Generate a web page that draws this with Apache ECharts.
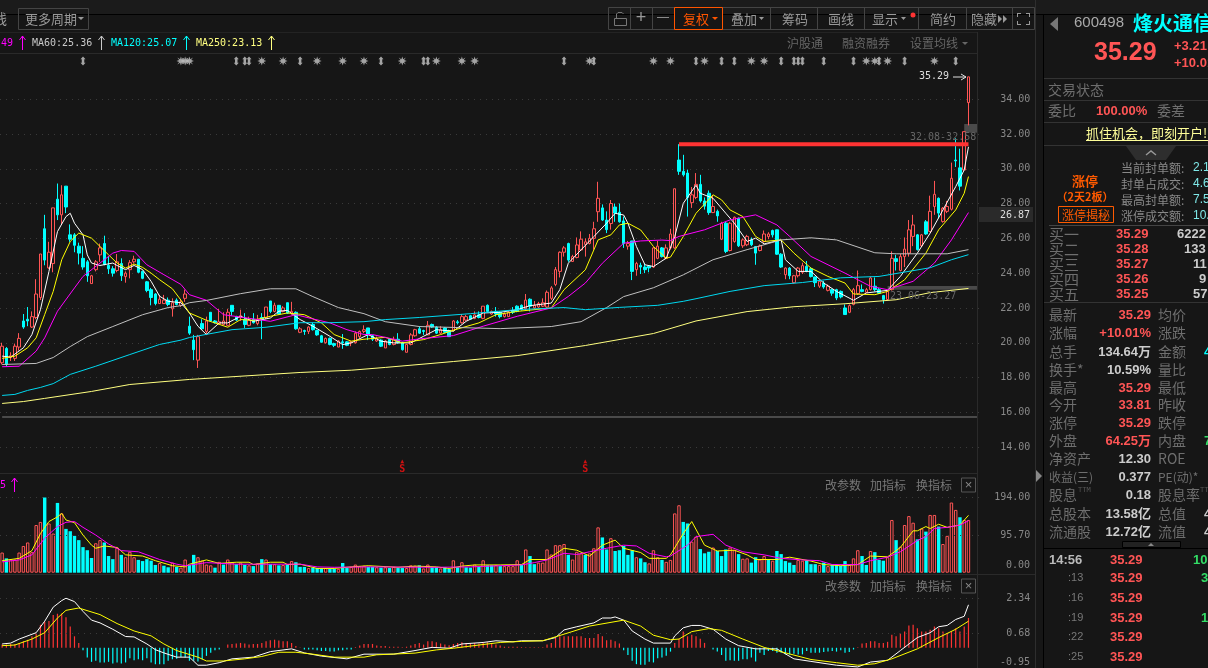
<!DOCTYPE html>
<html lang="zh">
<head>
<meta charset="UTF-8"/>
<title>烽火通信 600498</title>
<script src="https://cdn.jsdelivr.net/npm/echarts@6/dist/echarts.min.js"></script>
<style>html,body{margin:0;padding:0;background:#161616;overflow:hidden}#main{width:1208px;height:668px}</style>
</head>
<body>
<div id="main"></div>
<script>
// open, close, low, high
var ohlc = [
[18.8,19.75,18.7,19.95],[19.62,18.7,18.6,19.7],[19.1,19.2,18.9,19.4],[19.05,19.75,18.9,19.9],[19.7,20.2,19.5,20.5],
[21.2,20.85,20.75,21.6],[21.3,21.2,20.9,22],[20.85,21.45,20.8,21.75],[21.4,22.75,21.3,23.6],[22.55,25.05,22.4,25.05],
[26.5,24.7,24.4,27.3],[24.25,25.15,24.2,25.75],[24.5,27.7,24,27.7],[28.2,27.3,27,29.1],[27.3,28.45,26.75,29],
[28.95,27.75,27.4,28.95],[26.15,25.9,25.75,26.75],[26.15,25.55,25.15,26.25],[25.5,25.1,24.45,25.7],[24.8,24.3,24.15,25.5],
[24.6,23.8,23.45,24.7],[23.35,23.8,23.35,23.85],[24.15,24.6,24.05,24.7],[25,25.4,24.6,25.65],[25.65,24.45,24.4,26.1],
[24.4,24.2,23.9,24.9],[24.2,23.95,23.75,24.35],[24.1,24.6,24,25.05],[24.5,23.8,23.5,24.8],[23.75,23.95,23.4,24.05],
[24.15,24.55,23.65,24.7],[24.6,24.75,24.5,24.95],[24.75,24,23.95,24.75],[24.05,23.65,23.6,24.1],[23.45,22.95,22.85,23.5],
[23,22.55,22.1,23.1],[22.75,22.2,22.1,22.8],[22.2,22.45,22.2,22.7],[22.2,22.4,22.2,22.7],[22.4,22.15,22.05,22.55],
[21.9,22.25,21.45,22.5],[22.4,22.15,22.1,22.5],[22.1,22.3,22,22.45],[22.5,22.75,22.3,23],[20.9,20.5,20.4,21.45],
[20.1,19.55,18.95,20.4],[18.95,20.3,18.5,20.4],[21.05,20.75,20.7,21.3],[20.6,21.2,20.4,21.45],[21.7,21.2,21.15,21.7],
[21.2,21.1,21.05,21.25],[21.05,21.15,21,21.9],[21,21.2,21,21.7],[20.95,21.7,20.9,21.9],[22.1,21.75,21.5,22.1],
[21.45,21.25,21.2,21.5],[21.4,21.5,21.2,21.85],[21.3,21,20.8,21.65],[20.95,21.25,20.9,21.45],[21.3,21.1,21.05,21.65],
[21.05,21.3,20.95,21.55],[21.4,21.3,20.15,21.65],[21.4,22,21.3,22],[22.35,21.75,21.65,22.35],[21.75,22.1,21.7,22.25],
[22.1,21.6,21.55,22.1],[21.75,21.95,21.7,22.05],[22.25,21.65,21.6,22.25],[21.65,21.75,21.55,22.3],[21.7,20.75,20.7,21.75],
[20.55,20.75,20.5,20.85],[20.65,20.6,20.4,20.7],[20.6,20.85,20.45,20.9],[21,20.7,20.65,21.1],[20.65,20.4,20.35,20.7],
[20.35,19.98,19.95,20.4],[19.95,20.2,19.9,20.25],[20.2,19.85,19.8,20.25],[19.9,19.8,19.7,19.95],[19.7,20.05,19.7,20.1],
[20,19.95,19.6,20.45],[20,19.8,19.75,20.05],[19.95,20,19.75,20.05],[19.95,20.5,19.9,20.6],[20.3,20.6,20.2,20.65],
[20.6,20.7,20.5,20.95],[20.8,20.4,20.1,20.8],[20.35,20.15,20.05,20.4],[20.05,20.2,20,20.3],[20.1,19.75,19.7,20.15],
[19.65,20.05,19.65,20.1],[20.15,19.85,19.8,20.2],[19.85,20.15,19.8,20.3],[20.15,19.95,19.9,20.5],[19.95,19.55,19.5,20],
[19.4,19.85,19.4,19.85],[19.85,20.4,19.8,20.5],[20.35,20.7,20.3,20.75],[20.75,20.5,20.45,20.9],[20.65,20.6,20.4,20.7],
[20.4,20.95,20.4,21.2],[21,20.85,20.8,21.05],[20.85,20.5,20.45,20.9],[20.5,20.7,20.45,20.9],[20.8,20.55,20.5,20.85],
[20.65,20.3,20.3,20.7],[20.65,21.2,20.6,21.25],[21.15,21.1,21,21.25],[21.1,21.45,21.05,21.6],[21.25,21.45,21.2,21.55],
[21.5,21.3,21.3,21.55],[21.35,21.55,21.3,21.75],[21.55,21.4,21.35,21.75],[21.35,22.05,21.3,22.05],[22.1,21.75,21.7,22.15],
[21.6,21.75,21.55,21.8],[21.75,21.6,21.45,22],[21.7,21.45,21.35,21.75],[21.45,21.6,21.4,21.7],[21.45,21.7,21.45,21.75],
[21.8,21.7,21.6,22],[22.05,21.75,21.7,22.1],[22.1,21.85,21.8,22.15],[21.9,22.4,21.8,22.75],[22.45,22.05,21.75,22.5],
[21.95,22.1,21.9,22.35],[22,22.2,21.95,22.3],[22.05,22.25,22,22.5],[22,22.85,21.95,22.95],[22.5,23.1,22.4,23.2],
[23.3,24.15,23.2,24.3],[24.05,25.15,23.7,25.2],[25.15,25.4,24.9,25.5],[25.65,24.7,24.6,25.7],[24.62,24.9,24.6,25],
[24.85,25.57,24.8,26],[25.28,25.9,25.25,26.35],[25.6,25.75,24.9,25.95],[25.65,25.95,25.6,26.2],[25.95,26.5,25.3,26.9],
[27.48,28.25,26.9,29.2],[27.7,27,26.95,27.9],[27,26.45,26.25,27.5],[26.8,27.95,26.45,28.15],[27.75,27.4,26.9,27.95],
[27.45,26.9,26.85,27.95],[26.95,25.65,25.4,27.2],[25.5,25.65,25.3,25.8],[25.8,24.05,23.55,25.8],[24.15,24.5,23.8,24.6],
[24.4,24.3,23.9,24.55],[24.3,24.15,23.95,24.5],[24.35,24.25,24,24.4],[24.3,25.4,24.25,25.45],[24.8,25.5,24.75,25.8],
[25.4,24.9,24.85,25.45],[24.8,25.4,24.75,25.6],[25.4,26.2,25.3,26.5],[25.4,28.8,25.35,28.8],[30.45,29.8,29.6,31.36],
[29.8,29.6,29.5,30.75],[29.7,28.3,27.2,29.9],[28,28.45,27.7,28.9],[28.3,29.05,28.2,29.7],[29.05,28.1,28,29.6],
[28.1,27.8,27.6,28.3],[28.54,27.43,27.3,28.7],[27.43,27.78,27.4,28.45],[27.5,27.24,26.9,27.6],[25.9,26.82,25.85,26.9],
[26.82,25.2,25.1,26.9],[25.25,26.82,25.2,26.9],[25.77,27.16,25.7,27.2],[27.1,25.52,25.45,27.15],[25.52,25.86,25.4,25.95],
[25.58,26.06,25.5,26.15],[25.86,25.58,25.5,26],[25.48,25.1,24.43,25.5],[25.25,25.52,25.2,25.6],[25.77,26.2,25.7,26.4],
[26.05,26.2,25.9,26.3],[26.4,26.15,26,26.45],[26.44,25.04,25,26.45],[25.04,24.3,24.25,25.1],[23.86,24.24,23.6,24.28],
[24.24,23.8,23.6,24.3],[23.4,23.8,23.35,23.85],[23.8,24.24,23.7,24.3],[24,24.38,23.9,24.55],[24.34,24.05,24,24.65],
[24.2,23.75,23.7,24.3],[23.73,23.4,23.15,23.75],[23.2,23.48,23.1,23.55],[23.38,23.15,23.05,23.5],[22.96,23.2,22.9,23.3],
[23,22.8,22.65,23.05],[23,22.52,22.4,23.05],[22.9,22.58,22.5,22.95],[21.95,21.57,21.55,22.15],[21.7,22.08,21.65,22.15],
[22.15,23,22.1,23.1],[22.77,23.23,22.7,24.1],[23,22.9,22.85,23.3],[22.85,23,22.8,23.1],[23,23.67,22.95,23.75],
[23.2,23,22.9,23.7],[23,22.8,22.75,23.1],[22.66,22.43,22.2,22.7],[22.43,22.9,22.4,22.95],[23,24.8,22.95,25.2],
[24.78,24.62,24.1,25],[24.1,24.9,24.05,25.05],[24.9,25.33,24.3,26],[25.1,26.44,24.9,27],[26.06,26.72,25.5,27.3],
[26.15,25.3,25.25,26.2],[25.52,26.15,25.45,26.2],[26.9,26.2,26.15,27],[26.35,27.5,26.3,28.4],[27.78,28.48,27.3,29.25],
[28.25,27.4,27.1,28.3],[26.92,27.68,26.85,27.75],[27.5,27.78,27.4,28.1],[27.62,29.4,27.55,30.3],[30.45,30.4,30.05,31.7],
[30,28.95,28.7,31.1],[29.88,32.08,29.85,32.08],[33.75,35.23,32.44,35.23]
];
// negative = cyan (down) bar
var volumes = [
52,-37,34,34,52,69,78,53,123,131,-194,127,101,-180,153,-113,-107,-95,-84,-66,-58,-38,76,84,-78,-43,-35,65,-46,40,
54,40,-33,-30,-35,-31,-20,25,-18,-14,26,-15,13,34,-20,-46,40,31,21,19,-13,28,-21,34,27,-22,26,-20,19,-17,
24,-35,34,-22,22,-19,20,-21,30,-27,-15,-15,12,-13,-12,-11,12,-10,-10,10,-25,-12,15,21,17,18,-15,-15,14,-13,
14,-12,15,-12,-12,12,19,18,-19,11,21,-14,-14,11,-14,-10,32,-14,27,-14,-13,21,-15,32,-19,-19,20,-17,17,17,
17,32,-20,60,-43,-22,26,26,60,47,71,71,74,-46,34,54,50,-46,50,63,117,-91,-60,89,-56,-58,-69,-46,-58,40,
-37,-27,24,58,40,-33,28,33,153,174,-131,-127,80,93,-61,-50,-54,65,-56,-43,-60,65,58,-48,36,37,-26,-40,34,43,
-34,31,-56,-48,-30,-26,-20,33,31,-31,-22,-22,20,-26,17,-21,-22,-18,-30,20,37,58,-43,-20,56,-53,-33,-31,40,136,
-84,67,123,146,129,-86,114,-106,149,149,-119,74,95,181,162,-143,136,136
];
var macdBars = [
.15,.15,.18,.18,.23,.31,.38,.54,.69,1.08,1.23,1.26,1.54,1.6,1.61,1.43,1,.54,.23,
-.12,-.46,-.66,-.61,-.69,-.69,-.66,-.74,-.69,-.74,-.69,-.49,-.58,-.54,-.58,-.49,-.69,-.77,-.77,-.77,-.61,-.54,-.51,-.43,-.46,-.61,-.61,-.65,-.54,-.38,-.23,-.12,-.08,
0,.15,.18,.2,.23,.2,.15,.18,.18,.23,.31,.35,.38,.34,.31,.31,.23,.08,.01,
-.08,-.08,-.08,-.11,-.15,-.15,-.18,-.18,-.12,-.11,-.08,-.08,
.03,.11,.18,.18,.18,.11,.08,.08,.05,.05,.05,.03,.05,.11,.18,.23,.15,.31,.31,.26,.2,.15,.12,.18,.23,.26,.23,.2,.23,.2,.26,.26,.23,.15,.11,.05,.05,.05,.05,
.03,.03,.03,.03,.02,.03,.15,.23,.46,.54,.54,.54,.54,.54,.54,.46,.46,.46,.65,.54,.35,.38,.31,.2,
-.12,-.34,-.61,-.77,-.8,-.8,-.66,-.69,-.49,-.46,-.38,-.18,
.23,.43,.77,.54,.61,.54,.43,.23,0,
-.08,-.18,-.34,-.61,-.58,-.61,-.61,-.54,-.54,-.46,-.65,-.23,-.34,-.15,-.15,-.23,-.23,-.31,-.31,-.28,-.31,-.31,-.15,-.23,-.23,-.23,-.2,-.18,-.15,-.18,-.12,-.23,-.2,-.08,
.02,.2,.23,.31,.31,.23,.23,.28,.61,.54,.69,.77,1.05,1.08,.92,.77,.77,.85,1,.92,.77,.69,.77,.92,.77,1,1.4
];
// moving averages at the bends: [bar, value]
var ma5 = [[0,19.18],[2,19.12],[5,19.66],[7,20.42],[9,21.85],[11,24.05],[13,26.34],[15,27.2],[16,27.39],[17,26.82],[19,26.15],[20,25],[21,24.53],[23,24.39],[26,24.53],[27,24.39],[29,24.15],[31,24.39],[33,24.15],[35,23.48],[37,22.62],[39,22.33],[42,22.25],[44,21.66],[46,20.9],[48,20.42],[51,21.09],[53,21.09],[56,21.47],[59,21.18],[63,21.37],[65,21.76],[67,21.81],[70,21.28],[73,20.9],[77,20.32],[80,19.84],[82,19.94],[86,20.42],[89,20.04],[92,19.94],[96,19.94],[99,20.32],[102,20.7],[106,20.61],[109,21.18],[113,21.66],[117,21.7],[121,21.85],[124,22.08],[129,22.23],[131,23],[133,24.52],[136,25.29],[139,26.05],[142,26.82],[144,27.39],[146,27.29],[147,26.82],[149,25.48],[151,24.43],[153,24.33],[156,24.81],[158,26.05],[160,27.96],[163,29],[164,28.54],[167,28.25],[170,27.39],[172,26.82],[175,25.77],[177,25.96],[179,25.63],[183,25.86],[184,24.72],[187,24.05],[190,24.05],[193,23.38],[196,22.9],[200,22.39],[203,22.81],[206,22.9],[208,22.96],[211,23.76],[215,25.1],[218,26.25],[221,27.58],[224,28.92],[226,29.88],[227,31.21]];
var ma10 = [[0,19.05],[3,19.18],[6,19.66],[8,20.23],[10,21.57],[12,22.9],[14,24.72],[16,25.77],[18,26.25],[21,25.96],[23,25.48],[25,25],[27,24.53],[29,24.24],[31,24.47],[33,24.28],[35,23.95],[37,23.57],[40,23.05],[42,22.4],[44,21.66],[48,21.24],[50,21.09],[53,20.84],[56,21.28],[59,21.24],[63,21.47],[67,21.66],[71,21.56],[75,21.09],[78,20.42],[82,20.04],[85,20.15],[90,20.26],[94,19.94],[99,20.13],[103,20.42],[106,20.67],[112,21.09],[116,21.56],[121,21.75],[129,21.95],[132,23],[137,24.14],[140,25.86],[143,26.15],[145,26.72],[147,26.82],[150,26.43],[153,25.48],[156,24.81],[157,24.87],[160,26.05],[163,27.39],[167,28.45],[169,28.16],[171,27.58],[174,27.2],[177,26.06],[179,25.77],[183,25.86],[186,25.1],[190,24.24],[194,23.76],[198,23.38],[200,22.75],[205,22.71],[208,22.9],[212,23.57],[217,25.1],[220,26.44],[224,27.58],[226,28.54],[227,29.5]];
var ma20 = [[0,18.57],[4,18.6],[8,19.47],[10,20.23],[13,21.76],[17,23.1],[19,23.76],[23,24.53],[26,25.1],[28,25.25],[31,25.2],[34,24.43],[38,23.86],[42,23.3],[44,22.71],[48,22.39],[52,21.56],[59,21.32],[63,21.18],[69,21.56],[73,21.32],[77,21.09],[81,20.7],[85,20.42],[87,20.42],[94,20.04],[98,20.17],[106,20.36],[113,20.9],[121,21.47],[129,21.95],[133,22.61],[137,23.38],[141,24.52],[146,25.67],[150,25.8],[155,25.85],[157,25.82],[159,26.06],[165,26.44],[171,27.01],[177,27.3],[182,26.72],[185,26.06],[190,24.91],[198,23.95],[204,23.19],[208,23],[214,23.48],[219,24.53],[223,25.86],[227,27.43]];
var ma60 = [[0,18.7],[8,18.76],[12,19.1],[16,19.73],[20,20.3],[26,20.88],[33,21.56],[39,21.97],[42,22.08],[44,22.25],[48,22.38],[56,22.77],[63,23.05],[69,23.05],[73,22.6],[79,21.97],[85,21.62],[90,21.16],[98,20.88],[117,20.76],[129,20.88],[136,21.16],[142,21.97],[146,22.6],[153,23.11],[160,23.85],[167,24.72],[175,25.3],[183,25.86],[190,25.98],[196,25.86],[205,25.12],[210,25.06],[222,25.06],[227,25.3]];
var ma120 = [[0,16.92],[3,16.98],[6,17.21],[9,17.38],[12,17.6],[16,18.13],[22,18.6],[30,19.27],[37,19.85],[42,20.1],[44,20.25],[54,20.7],[62,20.84],[70,21.1],[77,21.1],[85,21.16],[90,21.28],[98,21.4],[110,21.62],[121,21.85],[132,21.97],[137,21.85],[145,21.98],[154,22.1],[160,22.33],[163,22.48],[171,22.9],[179,23.23],[188,23.41],[197,23.68],[206,23.76],[218,24.26],[223,24.72],[227,25.01]];
var ma250 = [[0,16.46],[5,16.57],[10,16.75],[21,17.15],[30,17.55],[44,17.84],[70,18.24],[82,18.37],[90,18.53],[106,18.87],[121,19.21],[137,19.79],[153,20.48],[163,21.2],[175,21.74],[186,22.02],[198,22.19],[210,22.42],[218,22.83],[227,23.07]];
var volMa5 = [[0,31],[4,37],[7,57],[9,101],[11,132],[13,144],[14,153],[15,136],[17,129],[19,97],[21,71],[22,63],[24,69],[27,65],[29,46],[33,43],[36,31],[40,18],[43,15],[44,22],[48,33],[51,24],[55,27],[58,27],[59,21],[63,27],[66,27],[67,21],[70,22],[74,11],[78,11],[82,15],[86,18],[93,14],[97,17],[102,15],[105,11],[108,17],[111,20],[117,20],[122,21],[124,34],[128,34],[132,63],[135,58],[138,43],[141,71],[144,84],[146,63],[150,52],[152,37],[156,37],[157,46],[160,101],[162,132],[165,71],[168,56],[172,58],[175,46],[177,34],[182,34],[185,40],[190,30],[193,21],[197,18],[201,21],[204,43],[208,41],[211,65],[214,108],[215,108],[217,119],[218,114],[220,125],[222,117],[225,123],[227,148]];
var volMa10 = [[0,28],[4,33],[7,46],[10,89],[13,119],[15,130],[17,132],[19,117],[22,97],[25,74],[28,57],[32,54],[37,34],[41,22],[43,18],[48,26],[55,22],[63,22],[70,22],[74,15],[78,14],[86,15],[102,14],[110,15],[122,20],[125,26],[128,33],[132,50],[135,47],[138,54],[142,63],[146,71],[149,69],[152,50],[156,41],[157,43],[161,71],[163,93],[167,99],[170,71],[174,54],[179,46],[183,37],[188,33],[192,31],[195,21],[201,21],[204,31],[208,40],[211,54],[215,83],[217,93],[219,114],[222,117],[225,123],[227,134]];
var dif = [[0,.18],[2,.22],[4,.41],[8,.71],[10,1.25],[12,1.91],[14,2.22],[15,2.33],[17,2.17],[19,1.71],[21,1.3],[23,1.17],[26,.87],[29,.53],[31,.51],[34,.18],[36,-.09],[38,-.24],[41,-.44],[44,-.44],[46,-.82],[48,-.82],[51,-.7],[54,-.52],[59,-.44],[63,-.18],[68,-.05],[71,-.24],[75,-.39],[81,-.52],[85,-.3],[92,-.3],[97,-.13],[101,.02],[105,-.02],[108,.18],[113,.25],[116,.33],[120,.28],[122,.33],[127,.33],[130,.48],[132,.84],[135,.99],[139,1.17],[141,1.4],[143,1.4],[144,1.45],[146,1.3],[148,.79],[151,.41],[153,.22],[157,.22],[158,.56],[160,.94],[162,1.05],[164,1.05],[167,.87],[170,.41],[173,.1],[177,-.05],[182,-.05],[186,-.52],[190,-.64],[196,-.82],[201,-.9],[204,-.67],[208,-.59],[211,-.13],[215,.48],[218,.71],[220,.99],[222,1.05],[224,1.33],[226,1.48],[227,2.02]];
var dea = [[0,.1],[3,.13],[7,.41],[10,.71],[13,1.4],[15,1.76],[18,1.87],[23,1.56],[27,1.14],[31,.79],[35,.56],[38,.18],[41,-.13],[46,-.44],[48,-.62],[52,-.62],[57,-.52],[61,-.41],[65,-.21],[69,-.21],[73,-.3],[78,-.44],[85,-.44],[88,-.33],[97,-.25],[102,-.1],[106,-.02],[112,.13],[117,.25],[122,.3],[127,.33],[132,.64],[138,1.02],[146,1.3],[150,1.02],[153,.59],[157,.38],[159,.41],[162,.76],[166,.9],[169,.82],[174,.41],[179,.02],[185,-.29],[190,-.55],[196,-.7],[201,-.82],[205,-.75],[209,-.52],[215,-.05],[220,.48],[224,.87],[227,1.25]];
var starBars = [42,43,44,61,66,74,80,85,94,102,108,111,138,153,157,165,176,179,203,205,208,219];
var arrowBars = [19,55,57,58,70,89,99,100,132,139,163,169,172,183,186,187,188,193,200,206,212,224];
var sBars = [94,137];
var resistance = [[159,31.36],[227,31.36]];
var floorLine = 15.78;
var upperZone = [32.08,32.58];
var lowerZone = [23.06,23.27];
var volGuides = [95.7,194];
var macdGuides = [0.68,2.34];
// my price readings sit one pixel high against the tick marks
var readShift = 0.06;

var BG = '#161616', RED = '#ff5555', CYAN = '#00ffff', YEL = '#ffff00';
var MONO = '"DejaVu Sans Mono","Liberation Mono",monospace';
var SANS = '"Liberation Sans","Noto Sans CJK SC",sans-serif';
var CJK = '"Noto Sans CJK SC",sans-serif';
var barCount = 231;
var cats = [];
for (var i = 0; i < barCount; i++) cats.push(String(i));

function sparse(pts, shift) {
    var arr = [];
    for (var i = 0; i < barCount; i++) arr.push(null);
    pts.forEach(function (p) { arr[p[0]] = p[1] + (shift || 0); });
    return arr;
}
function lineSeries(name, pts, color, xi, extra, shift) {
    var s = {
        name: name, type: 'line', xAxisIndex: xi, yAxisIndex: xi, data: sparse(pts, shift), connectNulls: true,
        showSymbol: false, symbol: 'none', silent: true, z: 5,
        lineStyle: { color: color, width: 1 }
    };
    for (var k in extra) s[k] = extra[k];
    return s;
}
function guides(vals) {
    return {
        silent: true, symbol: 'none', label: { show: false }, animation: false,
        lineStyle: { color: '#3a3a3a', type: [1, 5], width: 1 },
        data: vals.map(function (v) { return { yAxis: v }; })
    };
}

// ---- static text and frame of the terminal ----
var gfx = [];
function t(x, y, text, color, size, o) {
    o = o || {};
    gfx.push({
        type: 'text', silent: true, x: x, y: y, z: 20,
        style: {
            text: text, fill: color, font: (o.bold ? 'bold ' : '') + size + 'px ' + (o.font || CJK),
            textAlign: o.align || 'left', textVerticalAlign: 'middle'
        }
    });
}
function box(x, y, w, h, fill, stroke) {
    gfx.push({
        type: 'rect', silent: true, z: 15, shape: { x: x, y: y, width: w, height: h },
        style: { fill: fill || 'transparent', stroke: stroke || null, lineWidth: 1 }
    });
}
function hl(x1, x2, y, c) { box(x1, y, x2 - x1, 1, c || '#2c2c2c'); }
function vl(x, y1, y2, c) { box(x, y1, 1, y2 - y1, c || '#2c2c2c'); }
function tri(pts, c) {
    gfx.push({ type: 'polygon', silent: true, z: 20, shape: { points: pts }, style: { fill: c } });
}
function poly(pts, c, w) {
    gfx.push({ type: 'polyline', silent: true, z: 20, shape: { points: pts }, style: { stroke: c, lineWidth: w || 1, fill: null } });
}
function upArrow(x, y, c) {
    poly([[x, y + 7], [x, y - 7]], c);
    poly([[x - 3, y - 3], [x, y - 7], [x + 3, y - 3]], c);
}

// frame
box(0, 0, 1208, 14, '#1b1b1b');
hl(0, 1208, 14, '#000');
hl(0, 977, 32, '#232323');
hl(0, 977, 53, '#2a2a2a');
hl(0, 977, 473, '#2a2a2a');
hl(0, 1035, 574, '#2a2a2a');
vl(977, 32, 668, '#2a2a2a');
vl(1035, 0, 668, '#2e2e2e');
vl(1043, 14, 668, '#000');
tri([[1036, 470], [1042, 476], [1036, 482]], '#888');

// left buttons
t(-7, 19, '线', '#999', 14);
box(18.5, 8.5, 70, 21, null, '#444');
t(25, 19, '更多周期', '#999', 13);
tri([[78, 17], [84, 17], [81, 20]], '#999');

// toolbar
box(608.5, 7.5, 426, 22, null, '#444');
[630, 652, 770, 817, 864, 918, 966, 1012].forEach(function (x) { vl(x, 8, 29, '#444'); });
box(674.5, 7.5, 48, 22, '#161616', '#ff5500');
box(614.5, 18.5, 12, 7, null, '#777');
poly([[616.5, 18], [616.5, 14], [618, 12.5], [622, 12.5], [623.5, 14]], '#777');
t(641, 18, '+', '#999', 18, { font: SANS, align: 'center' });
t(663, 18, '—', '#999', 12, { font: SANS, align: 'center' });
t(683, 19, '复权', '#ff5500', 13);
tri([[712, 17], [718, 17], [715, 20]], '#ff5500');
t(731, 19, '叠加', '#999', 13);
tri([[759, 17], [764, 17], [761.5, 20]], '#999');
t(782, 19, '筹码', '#999', 13);
t(828, 19, '画线', '#999', 13);
t(872, 19, '显示', '#999', 13);
tri([[901, 17], [906, 17], [903.5, 20]], '#999');
gfx.push({ type: 'circle', silent: true, z: 20, shape: { cx: 913, cy: 15, r: 2.5 }, style: { fill: '#ff3333' } });
t(930, 19, '简约', '#999', 13);
t(971, 19, '隐藏', '#999', 13);
tri([[998, 15], [1002, 19], [998, 23]], '#999');
tri([[1003, 15], [1007, 19], [1003, 23]], '#999');
box(1017, 13, 4, 1, '#999'); box(1017, 13, 1, 4, '#999');
box(1026, 13, 4, 1, '#999'); box(1029, 13, 1, 4, '#999');
box(1017, 24, 4, 1, '#999'); box(1017, 21, 1, 4, '#999');
box(1026, 24, 4, 1, '#999'); box(1029, 21, 1, 4, '#999');

// legend row
t(1, 43, '49', '#ff00ff', 10, { font: MONO });
upArrow(22.5, 43, '#ff00ff');
t(32, 43, 'MA60:25.36', '#c8c8c8', 10, { font: MONO });
upArrow(101.5, 43, '#c8c8c8');
t(111, 43, 'MA120:25.07', CYAN, 10, { font: MONO });
upArrow(186.5, 43, CYAN);
t(196, 43, 'MA250:23.13', '#ffff80', 10, { font: MONO });
upArrow(271.5, 43, '#ffff80');
t(787, 43, '沪股通', '#666', 12);
t(842, 43, '融资融券', '#666', 12);
t(910, 43, '设置均线', '#666', 12);
tri([[962, 42], [968, 42], [965, 45]], '#666');

// price annotations
t(919, 76, '35.29', '#ddd', 10, { font: MONO });
poly([[953, 77], [966, 77]], '#ddd');
poly([[961, 74], [966, 77], [961, 80]], '#ddd');
t(910, 137, '32.08-32.58', '#666', 10, { font: MONO });
t(890, 296, '23.06-23.27', '#666', 10, { font: MONO });
box(979, 207, 54, 15, '#2a2a2a');
t(1030, 215, '26.87', '#ddd', 10, { font: MONO, align: 'right' });

// sub panes
t(0, 485, '5', '#ff00ff', 10, { font: MONO });
upArrow(14.5, 485, '#ff00ff');
[485, 586].forEach(function (y) {
    t(825, y, '改参数', '#777', 12);
    t(870, y, '加指标', '#777', 12);
    t(916, y, '换指标', '#777', 12);
    box(961.5, y - 7, 14, 14, null, '#555');
    t(968.5, y, '×', '#888', 13, { font: SANS, align: 'center' });
});
t(1030, 565, '0.00', '#888', 10, { font: MONO, align: 'right' });
t(1030, 662, '-0.95', '#888', 10, { font: MONO, align: 'right' });

// quote panel
var L = '#6e6e6e';
tri([[1058, 17], [1050, 24], [1058, 31]], '#777');
t(1074, 23, '600498', '#aaa', 15, { font: SANS });
t(1133, 23, '烽火通信', CYAN, 20, { bold: true });
t(1094, 53, '35.29', RED, 25, { font: SANS, bold: true });
t(1174, 46, '+3.21', RED, 13, { font: SANS, bold: true });
t(1174, 63, '+10.01%', RED, 13, { font: SANS, bold: true });
hl(1044, 1208, 78, '#333');
t(1048, 90, '交易状态', L, 14);
hl(1044, 1208, 100, '#333');
t(1048, 111, '委比', L, 14);
t(1096, 111, '100.00%', RED, 13, { font: SANS, bold: true });
t(1157, 111, '委差', L, 14);
hl(1044, 1208, 122, '#333');
t(1086, 133, '抓住机会，即刻开户!', '#ffff99', 13);
hl(1086, 1208, 140, '#ffff99');
hl(1044, 1208, 145, '#333');
tri([[1126, 146], [1176, 146], [1166, 160], [1136, 160]], '#2e2e2e');
poly([[1146, 155], [1151, 151], [1156, 155]], '#999', 1.4);
[['当前封单额:', '2.1', 168], ['封单占成交:', '4.6', 184], ['最高封单额:', '7.5', 200], ['涨停成交额:', '10.', 216]].forEach(function (r) {
    t(1121, r[2], r[0], '#888', 12);
    t(1193, r[2], r[1], '#7fe8e8', 12, { font: SANS });
});
t(1085, 181, '涨停', '#ff5a00', 13, { bold: true, align: 'center' });
t(1085, 197, '（2天2板）', '#ff5a00', 11, { bold: true, align: 'center' });
box(1058.5, 206.5, 55, 16, null, '#ff5a00');
t(1086, 215, '涨停揭秘', '#ff5a00', 12, { align: 'center' });
hl(1049, 1208, 225, '#444');
[['买一', '35.29', '6222', 234], ['买二', '35.28', '133', 249], ['买三', '35.27', '11', 264], ['买四', '35.26', '9', 279], ['买五', '35.25', '57', 294]].forEach(function (r, k) {
    t(1049, r[3], r[0], L, 15);
    t(1116, r[3], r[1], RED, 13, { font: SANS, bold: true });
    t([1177, 1184, 1193, 1199, 1193][k], r[3], r[2], '#ccc', 13, { font: SANS, bold: true });
});
hl(1044, 1208, 302, '#333');
var rows = [
    ['最新', '35.29', RED, '均价', '', '', 315],
    ['涨幅', '+10.01%', RED, '涨跌', '', '', 333],
    ['总手', '134.64万', '#ccc', '金额', '4', CYAN, 352],
    ['换手*', '10.59%', '#ccc', '量比', '', '', 370],
    ['最高', '35.29', RED, '最低', '', '', 388],
    ['今开', '33.81', RED, '昨收', '', '', 405],
    ['涨停', '35.29', RED, '跌停', '', '', 423],
    ['外盘', '64.25万', RED, '内盘', '7', '#33dd66', 441],
    ['净资产', '12.30', '#ccc', 'ROE', '', '', 459],
    ['收益(三)', '0.377', '#ccc', 'PE(动)*', '', '', 477],
    ['股息', '0.18', '#ccc', '股息率', '', '', 495],
    ['总股本', '13.58亿', '#ccc', '总值', '4', '#ccc', 514],
    ['流通股', '12.72亿', '#ccc', '流值', '4', '#ccc', 532]
];
rows.forEach(function (r) {
    t(1049, r[6], r[0], L, r[0].length > 3 ? 12 : 14);
    t(1151, r[6], r[1], r[2], 13, { font: SANS, bold: true, align: 'right' });
    t(1158, r[6], r[3], L, r[3].length > 3 ? 12 : 14);
    if (r[4]) t(1204, r[6], r[4], r[5], 13, { font: SANS, bold: true });
});
t(1078, 490, 'TTM', '#555', 7, { font: MONO });
t(1200, 490, 'TT', '#555', 7, { font: MONO });
hl(1044, 1208, 548, '#000');
box(1122.5, 541.5, 58, 6, '#222', '#000');
tri([[1148, 546], [1151, 543], [1154, 546]], '#888');
[['14:56', '10', 560], [':13', '3', 578], [':16', '', 598], [':19', '1', 618], [':22', '', 637], [':25', '', 657]].forEach(function (r, k) {
    if (k === 0) t(1049, r[2], r[0], '#bbb', 13, { font: SANS, bold: true });
    else t(1068, r[2], r[0], '#777', 11, { font: SANS });
    t(1110, r[2], '35.29', RED, 13, { font: SANS, bold: true });
    if (r[1]) t(k === 0 ? 1193 : 1201, r[2], r[1], '#33dd66', 13, { font: SANS, bold: true });
});

// ---- chart ----
var gridLeft = -1.13, gridWidth = 984.5;
var hiddenX = function (gi) {
    return { type: 'category', gridIndex: gi, data: cats, boundaryGap: true, show: false };
};
function labelStyle(extra) {
    var o = { color: '#888', fontFamily: MONO, fontSize: 10, align: 'right', margin: 47 };
    for (var k in extra) o[k] = extra[k];
    return o;
}
function twoDec(v) { return v.toFixed(2); }
var shifted = ohlc.map(function (r) {
    return r.map(function (v) { return +(v + readShift).toFixed(2); });
});
var markers = [
    { type: 'scatter', data: starBars.map(function (b) { return [b, 36.2]; }), symbol: 'path://M5 0L6 3L9 1L7 4L10 5L7 6L9 9L6 7L5 10L4 7L1 9L3 6L0 5L3 4L1 1L4 3Z', symbolSize: 9, itemStyle: { color: '#c8c8c8' }, clip: false, silent: true, z: 6 },
    { type: 'scatter', data: arrowBars.map(function (b) { return [b, 36.2]; }), symbol: 'path://M3 0L6 3H4.5V7H6L3 10L0 7H1.5V3H0Z', symbolSize: [5, 9], itemStyle: { color: '#c8c8c8' }, clip: false, silent: true, z: 6 },
    {
        type: 'scatter', data: sBars.map(function (b) { return [b, 12.95]; }), symbolSize: 1, itemStyle: { color: 'transparent' }, silent: true, z: 6,
        label: { show: true, position: 'inside', formatter: '▴\nS', color: '#ff1010', fontSize: 10, lineHeight: 8, fontFamily: MONO, fontWeight: 'bold' }
    }
];
var option = {
    animation: false,
    backgroundColor: BG,
    graphic: gfx,
    grid: [
        { left: gridLeft, width: gridWidth, top: 64.5, height: 417.6 },
        { left: gridLeft, width: gridWidth, top: 497.5, height: 75.2 },
        { left: gridLeft, width: gridWidth, top: 598, height: 71.4 }
    ],
    xAxis: [hiddenX(0), hiddenX(1), hiddenX(2)],
    yAxis: [
        {
            type: 'value', gridIndex: 0, position: 'right', min: 12, max: 36, interval: 2,
            axisLine: { show: false }, axisTick: { show: false },
            splitLine: { showMinLine: false, showMaxLine: false, lineStyle: { color: '#3a3a3a', type: [1, 5] } },
            axisLabel: labelStyle({ formatter: function (v) { return v < 14 || v > 34 ? '' : v.toFixed(2); } })
        },
        {
            type: 'value', gridIndex: 1, position: 'right', min: 0, max: 194,
            axisLine: { show: false }, axisTick: { show: false }, splitLine: { show: false },
            axisLabel: labelStyle({ customValues: volGuides, formatter: twoDec })
        },
        {
            type: 'value', gridIndex: 2, position: 'right', min: -0.95, max: 2.34,
            axisLine: { show: false }, axisTick: { show: false }, splitLine: { show: false },
            axisLabel: labelStyle({ customValues: macdGuides, formatter: twoDec })
        }
    ],
    series: [
        {
            name: 'K', type: 'candlestick', xAxisIndex: 0, yAxisIndex: 0, data: shifted, barWidth: 3, silent: true, z: 3,
            itemStyle: { color: BG, color0: CYAN, borderColor: RED, borderColor0: CYAN, borderWidth: 1 },
            markLine: {
                silent: true, symbol: 'none', label: { show: false },
                lineStyle: { color: '#4a4a4a', type: 'solid', width: 2 },
                data: [[{ xAxis: '0', yAxis: floorLine }, { xAxis: '229', yAxis: floorLine }]]
            },
            markArea: {
                silent: true, itemStyle: { color: '#4a4a4a' }, label: { show: false },
                data: [
                    [{ xAxis: '226', yAxis: upperZone[0] }, { xAxis: '229', yAxis: upperZone[1] }],
                    [{ xAxis: '208', yAxis: lowerZone[0] }, { xAxis: '229', yAxis: lowerZone[1] }]
                ]
            }
        },
        lineSeries('MA5', ma5, '#ffffff', 0, null, readShift),
        lineSeries('MA10', ma10, YEL, 0, null, readShift),
        lineSeries('MA20', ma20, '#ff00ff', 0, null, readShift),
        lineSeries('MA60', ma60, '#c0c0c0', 0, null, readShift),
        lineSeries('MA120', ma120, '#00d8f0', 0, null, readShift),
        lineSeries('MA250', ma250, '#ffff80', 0, null, readShift),
        lineSeries('resistance', resistance, '#ff3333', 0, { lineStyle: { color: '#ff3333', width: 4 }, z: 7 }, readShift),
        markers[0], markers[1], markers[2],
        {
            name: 'VOL', type: 'bar', xAxisIndex: 1, yAxisIndex: 1, barWidth: 3.4, silent: true,
            data: volumes.map(function (v) {
                return {
                    value: Math.abs(v),
                    itemStyle: v < 0 ? { color: CYAN, borderWidth: 0 } : { color: BG, borderColor: RED, borderWidth: 1 }
                };
            }),
            markLine: guides(volGuides)
        },
        lineSeries('VOL5', volMa5, YEL, 1),
        lineSeries('VOL10', volMa10, '#ff00ff', 1),
        {
            name: 'MACD', type: 'bar', xAxisIndex: 2, yAxisIndex: 2, barWidth: 1.2, silent: true,
            data: macdBars.map(function (v) {
                return { value: v, itemStyle: { color: v < 0 ? CYAN : '#ff3333' } };
            }),
            markLine: guides(macdGuides)
        },
        lineSeries('DIF', dif, '#ffffff', 2),
        lineSeries('DEA', dea, YEL, 2)
    ]
};
var myChart = echarts.init(document.getElementById('main'), null, { renderer: 'canvas' });
myChart.setOption(option);
</script>
</body>
</html>
